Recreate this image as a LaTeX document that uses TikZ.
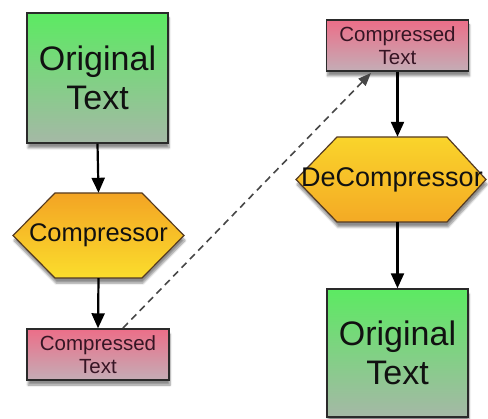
\documentclass[tikz,border=0pt]{standalone}
\usepackage{fontspec}
\setmainfont{Liberation Sans}
\usetikzlibrary{arrows.meta,shadows.blur}

\definecolor{greentop}{HTML}{5CEA62}
\definecolor{greenbot}{HTML}{A5B8A6}
\definecolor{pinktop}{HTML}{EC6E88}
\definecolor{pinkbot}{HTML}{C4ADB6}
\definecolor{orangeC}{HTML}{F3A424}
\definecolor{yellowC}{HTML}{FBDD2C}
\definecolor{edge}{HTML}{2A2A2A}
\definecolor{ink}{HTML}{111111}
\definecolor{pinkink}{HTML}{361524}

\tikzset{
  softshadow/.style={blur shadow={shadow xshift=1pt, shadow yshift=-5pt,
      shadow blur steps=6, shadow opacity=45}},
  origbox/.style={draw=edge, line width=1.4pt, rectangle, softshadow,
      top color=greentop, bottom color=greenbot, text=ink,
      minimum width=141pt, minimum height=130pt, inner sep=0pt,
      align=center, font=\fontsize{34}{39}\selectfont},
  compbox/.style={draw=edge, line width=1.4pt, rectangle, softshadow,
      top color=pinktop, bottom color=pinkbot, text=pinkink,
      minimum width=142pt, minimum height=51pt, inner sep=0pt,
      align=center, font=\fontsize{20.5}{23}\selectfont},
  hexshape/.style={draw=edge!80!orange, line width=1.2pt, softshadow},
  hexlabel/.style={rectangle, minimum height=85pt, inner sep=0pt, text=ink,
      font=\fontsize{25.5}{28}\selectfont},
  flow/.style={draw=black, line width=2.2pt,
      -{Triangle[length=15pt,width=13pt]}},
  hop/.style={draw=black!72, line width=1.6pt, dash pattern=on 7pt off 5pt,
      -{Triangle[length=13pt,width=10pt]}}
}

\begin{document}
\begin{tikzpicture}[x=1pt,y=-1pt]
  \useasboundingbox (0,0) rectangle (488,419);

  % compression column
  \node[origbox] (src) at (97.5,78) {Original\\Text};
  \begin{scope}[shift={(98.5,235.5)}]
    \path[hexshape, top color=orangeC, bottom color=yellowC]
      (-85.5,0) -- (-43.5,-42.5) -- (43.5,-42.5) -- (85.5,0)
      -- (43.5,42.5) -- (-43.5,42.5) -- cycle;
  \end{scope}
  \node[hexlabel] (comp) at (98.5,235.5) {Compressor};
  \node[compbox] (packed) at (98,354.5) {Compressed\\Text};

  % decompression column
  \node[compbox] (recv) at (397.5,45.5) {Compressed\\Text};
  \begin{scope}[shift={(391,179.5)}]
    \path[hexshape, top color=yellowC!85!orangeC, bottom color=orangeC!90!yellowC]
      (-95,0) -- (-54,-42.5) -- (56,-42.5) -- (95,0)
      -- (56,42.5) -- (-54,42.5) -- cycle;
  \end{scope}
  \node[hexlabel, font=\fontsize{27}{30}\selectfont] (decomp) at (392,179.5) {DeCompressor};
  \node[origbox, minimum height=128pt] (out) at (397.5,353) {Original\\Text};

  % vertical flow
  \draw[flow] (src.south) -- (comp.north);
  \draw[flow] (comp.south) -- (packed.north);
  \draw[flow] (recv.south) -- (recv.south |- decomp.north);
  \draw[flow] (decomp.south -| out.north) -- (out.north);

  % transfer between the two columns
  \coordinate (sendpt) at (123,328);
  \coordinate (recvpt) at (371,73);
  \draw[hop] (sendpt) -- (recvpt);
\end{tikzpicture}
\end{document}
